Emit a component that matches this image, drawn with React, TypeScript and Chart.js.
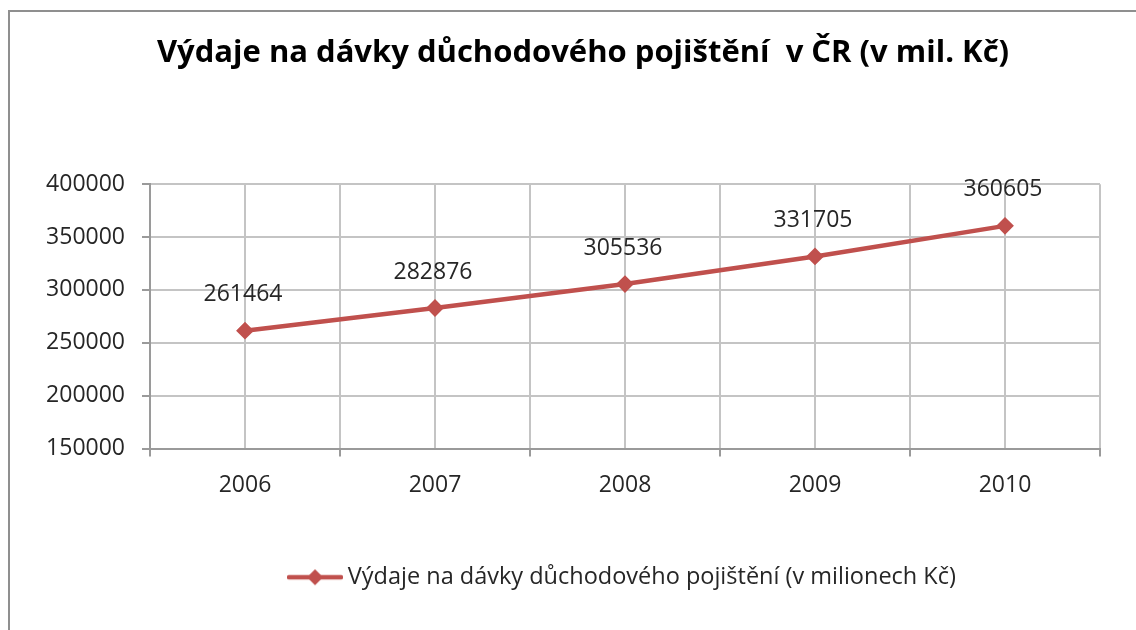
import React, { useEffect, useRef } from 'react';
import { Chart, registerables } from 'chart.js';

Chart.register(...registerables);

const TITLE = 'Výdaje na dávky důchodového pojištění  v ČR (v mil. Kč)';
const SERIES_LABEL = 'Výdaje na dávky důchodového pojištění (v milionech Kč)';
const years = ['2006', '2007', '2008', '2009', '2010'];
const expenditures = [261464, 282876, 305536, 331705, 360605];
const yMin = 150000;
const yMax = 400000;
const yStep = 50000;

const RED = '#C0504D';
const GRID = '#c4c4c4';
const AXIS = '#9a9a9a';
const TXT = '#262626';
const FONT = "'Open Sans', sans-serif";
const TICK_SIZE = 23;

const dataLabels = {
  id: 'dataLabels',
  afterDatasetsDraw(chart: any) {
    const ctx = chart.ctx;
    const meta = chart.getDatasetMeta(0);
    const ds = chart.data.datasets[0];
    ctx.save();
    ctx.font = `${TICK_SIZE}px ${FONT}`;
    ctx.fillStyle = TXT;
    ctx.textAlign = 'center';
    ctx.textBaseline = 'middle';
    meta.data.forEach((pt: any, i: number) => {
      ctx.fillText(String(ds.data[i]), pt.x - 2, pt.y - 36);
    });
    ctx.restore();
  },
};

// shift the title's horizontal box so it is centred like the original
const titleShift = {
  id: 'titleShift',
  afterLayout(chart: any) {
    const t = chart.titleBlock;
    if (t) {
      t.left = 66;
      t.width = t.right - t.left;
    }
  },
};

function makeMarker(): HTMLCanvasElement {
  const c = document.createElement('canvas');
  c.width = 56;
  c.height = 18;
  const g = c.getContext('2d')!;
  g.strokeStyle = RED;
  g.lineWidth = 4.5;
  g.lineCap = 'round';
  g.beginPath();
  g.moveTo(2, 9);
  g.lineTo(54, 9);
  g.stroke();
  g.fillStyle = RED;
  g.beginPath();
  g.moveTo(28 - 8, 9);
  g.lineTo(28, 1);
  g.lineTo(28 + 8, 9);
  g.lineTo(28, 17);
  g.closePath();
  g.fill();
  return c;
}

export default function App() {
  const ref = useRef<HTMLCanvasElement>(null);

  useEffect(() => {
    if (!ref.current) return;
    const marker = makeMarker();
    const chart = new Chart(ref.current, {
      type: 'line',
      data: {
        labels: years,
        datasets: [
          {
            label: SERIES_LABEL,
            data: expenditures,
            borderColor: RED,
            backgroundColor: RED,
            borderWidth: 4.5,
            pointStyle: 'rectRot',
            pointRadius: 7.5,
            pointBorderWidth: 2,
            pointBackgroundColor: RED,
            pointBorderColor: RED,
            tension: 0,
            xAxisID: 'x',
            yAxisID: 'y',
          },
        ],
      },
      options: {
        responsive: false,
        animation: false,
        devicePixelRatio: 1,
        layout: { padding: { left: 36, right: 36, top: 0, bottom: 31 } },
        plugins: {
          title: {
            display: true,
            text: TITLE,
            color: '#000',
            font: { family: FONT, size: 31, weight: 'bold' },
            padding: { top: 35, bottom: 112 },
          },
          legend: {
            display: true,
            position: 'bottom',
            fullSize: false,
            labels: {
              usePointStyle: true,
              pointStyleWidth: 42,
              padding: 10,
              color: TXT,
              font: { family: FONT, size: 23.5 },
              generateLabels: (ch: any) =>
                (Chart.defaults.plugins.legend.labels as any)
                  .generateLabels(ch)
                  .map((l: any) => ({ ...l, pointStyle: marker })),
            },
          },
          tooltip: { enabled: false },
        },
        scales: {
          x: {
            type: 'category',
            position: 'bottom',
            offset: true,
            grid: {
              offset: true,
              color: GRID,
              lineWidth: 2,
              drawTicks: true,
              tickLength: 8,
              tickColor: AXIS,
            },
            border: { display: true, color: AXIS, width: 2 },
            ticks: {
              color: TXT,
              font: { family: FONT, size: TICK_SIZE },
              padding: 15,
              maxRotation: 0,
              autoSkip: false,
            },
            afterFit: (s: any) => {
              s.height = 107;
            },
          },
          x2: {
            type: 'category',
            position: 'top',
            offset: true,
            grid: { offset: false, color: GRID, lineWidth: 2, drawTicks: false },
            border: { display: false },
            ticks: { display: false },
            afterFit: (s: any) => {
              s.height = 0;
            },
          },
          y: {
            type: 'linear',
            min: yMin,
            max: yMax,
            ticks: {
              stepSize: yStep,
              callback: (v: any) => String(v),
              color: TXT,
              font: { family: FONT, size: TICK_SIZE },
              padding: 17,
            },
            grid: {
              color: GRID,
              lineWidth: 2,
              drawTicks: true,
              tickLength: 8,
              tickColor: AXIS,
            },
            border: { display: true, color: AXIS, width: 2 },
            afterFit: (s: any) => {
              s.width = 114;
            },
          },
        },
      },
      plugins: [dataLabels, titleShift],
    } as any);
    return () => chart.destroy();
  }, []);

  return (
    <div style={{ position: 'absolute', left: 0, top: 0, width: 1136, height: 630, background: '#fff', overflow: 'hidden' }}>
      <div
        style={{
          position: 'absolute',
          left: 8,
          top: 10,
          right: 0,
          bottom: 0,
          borderTop: '2px solid #8f8f8f',
          borderLeft: '2px solid #8f8f8f',
        }}
      />
      <canvas ref={ref} width={1136} height={630} style={{ position: 'absolute', left: 0, top: 0, width: 1136, height: 630 }} />
    </div>
  );
}
